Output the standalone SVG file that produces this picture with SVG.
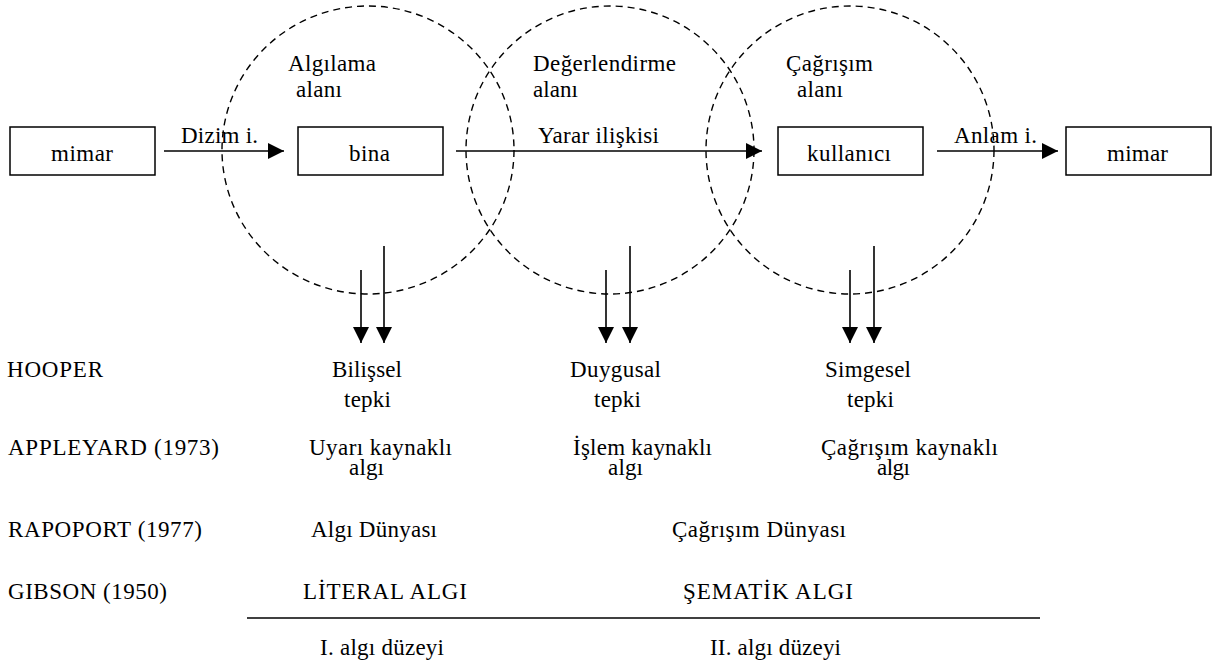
<svg xmlns="http://www.w3.org/2000/svg" width="1218" height="664" viewBox="0 0 1218 664">
<style>
text{font-family:"Liberation Serif","Times New Roman",serif;font-size:23px;fill:#000}
.box{fill:#fff;stroke:#000;stroke-width:1.5}
.zone{fill:none;stroke:#000;stroke-width:1.4;stroke-dasharray:7 5}
.arr{stroke:#000;stroke-width:1.6;fill:none;marker-end:url(#ah)}
</style>
<defs>
<marker id="ah" markerUnits="userSpaceOnUse" markerWidth="16" markerHeight="16" refX="16" refY="8" orient="auto">
<path d="M0,0 L16,8 L0,16 z" fill="#000"/>
</marker>
</defs>
<rect width="1218" height="664" fill="#fff"/>

<g id="zones">
<ellipse class="zone" cx="368" cy="150" rx="146" ry="144"/>
<ellipse class="zone" cx="610" cy="150" rx="144" ry="144"/>
<ellipse class="zone" cx="850" cy="150" rx="144" ry="144"/>
</g>

<g id="zone-labels">
<text x="288" y="71" textLength="88" lengthAdjust="spacing">Algılama</text>
<text x="296" y="97" textLength="46" lengthAdjust="spacing">alanı</text>
<text x="533" y="71" textLength="143" lengthAdjust="spacing">Değerlendirme</text>
<text x="533" y="97" textLength="45" lengthAdjust="spacing">alanı</text>
<text x="786" y="71" textLength="87" lengthAdjust="spacing">Çağrışım</text>
<text x="797" y="97" textLength="46" lengthAdjust="spacing">alanı</text>
</g>

<g id="node-mimar1"><rect class="box" x="10" y="127" width="145" height="48"/><text x="51" y="161" textLength="62" lengthAdjust="spacing">mimar</text></g>
<g id="node-bina"><rect class="box" x="298" y="127" width="145" height="48"/><text x="349" y="161" textLength="41" lengthAdjust="spacing">bina</text></g>
<g id="node-kullanici"><rect class="box" x="778" y="127" width="145" height="48"/><text x="807" y="161" textLength="84" lengthAdjust="spacing">kullanıcı</text></g>
<g id="node-mimar2"><rect class="box" x="1066" y="127" width="145" height="48"/><text x="1107" y="161" textLength="61" lengthAdjust="spacing">mimar</text></g>

<g id="connectors">
<line class="arr" x1="164" y1="151" x2="284" y2="151"/>
<line class="arr" x1="456" y1="151" x2="762" y2="151"/>
<line class="arr" x1="937" y1="151" x2="1058" y2="151"/>
<line class="arr" x1="361" y1="270" x2="361" y2="343"/>
<line class="arr" x1="384" y1="246" x2="384" y2="343"/>
<line class="arr" x1="606" y1="270" x2="606" y2="343"/>
<line class="arr" x1="630" y1="246" x2="630" y2="343"/>
<line class="arr" x1="850" y1="270" x2="850" y2="343"/>
<line class="arr" x1="874" y1="246" x2="874" y2="343"/>
</g>

<g id="connector-labels">
<text x="181" y="143" textLength="77" lengthAdjust="spacing">Dizim i.</text>
<text x="538" y="143" textLength="121" lengthAdjust="spacing">Yarar ilişkisi</text>
<text x="954" y="143" textLength="83" lengthAdjust="spacing">Anlam i.</text>
</g>

<g id="authors">
<text x="7" y="377" textLength="96" lengthAdjust="spacing">HOOPER</text>
<text x="8" y="455" textLength="211" lengthAdjust="spacing">APPLEYARD (1973)</text>
<text x="8" y="537" textLength="194" lengthAdjust="spacing">RAPOPORT (1977)</text>
<text x="8" y="599" textLength="159" lengthAdjust="spacing">GIBSON (1950)</text>
</g>

<g id="responses">
<text x="332" y="377" textLength="70" lengthAdjust="spacing">Bilişsel</text>
<text x="344" y="407" textLength="47" lengthAdjust="spacing">tepki</text>
<text x="570" y="377" textLength="91" lengthAdjust="spacing">Duygusal</text>
<text x="594" y="407" textLength="47" lengthAdjust="spacing">tepki</text>
<text x="825" y="377" textLength="86" lengthAdjust="spacing">Simgesel</text>
<text x="847" y="407" textLength="47" lengthAdjust="spacing">tepki</text>

<text x="309" y="455" textLength="143" lengthAdjust="spacing">Uyarı kaynaklı</text>
<text x="349" y="475" textLength="35" lengthAdjust="spacing">algı</text>
<text x="573" y="455" textLength="139" lengthAdjust="spacing">İşlem kaynaklı</text>
<text x="608" y="475" textLength="35" lengthAdjust="spacing">algı</text>
<text x="821" y="455" textLength="177" lengthAdjust="spacing">Çağrışım kaynaklı</text>
<text x="877" y="475" textLength="33" lengthAdjust="spacing">algı</text>

<text x="311" y="537" textLength="126" lengthAdjust="spacing">Algı Dünyası</text>
<text x="672" y="537" textLength="174" lengthAdjust="spacing">Çağrışım Dünyası</text>

<text x="303" y="599" textLength="164" lengthAdjust="spacing">LİTERAL ALGI</text>
<text x="683" y="599" textLength="170" lengthAdjust="spacing">ŞEMATİK ALGI</text>
</g>

<g id="levels">
<line x1="247" y1="618" x2="1040" y2="618" stroke="#000" stroke-width="1.5"/>
<text x="320" y="655" textLength="124" lengthAdjust="spacing">I. algı düzeyi</text>
<text x="710" y="655" textLength="131" lengthAdjust="spacing">II. algı düzeyi</text>
</g>
</svg>
